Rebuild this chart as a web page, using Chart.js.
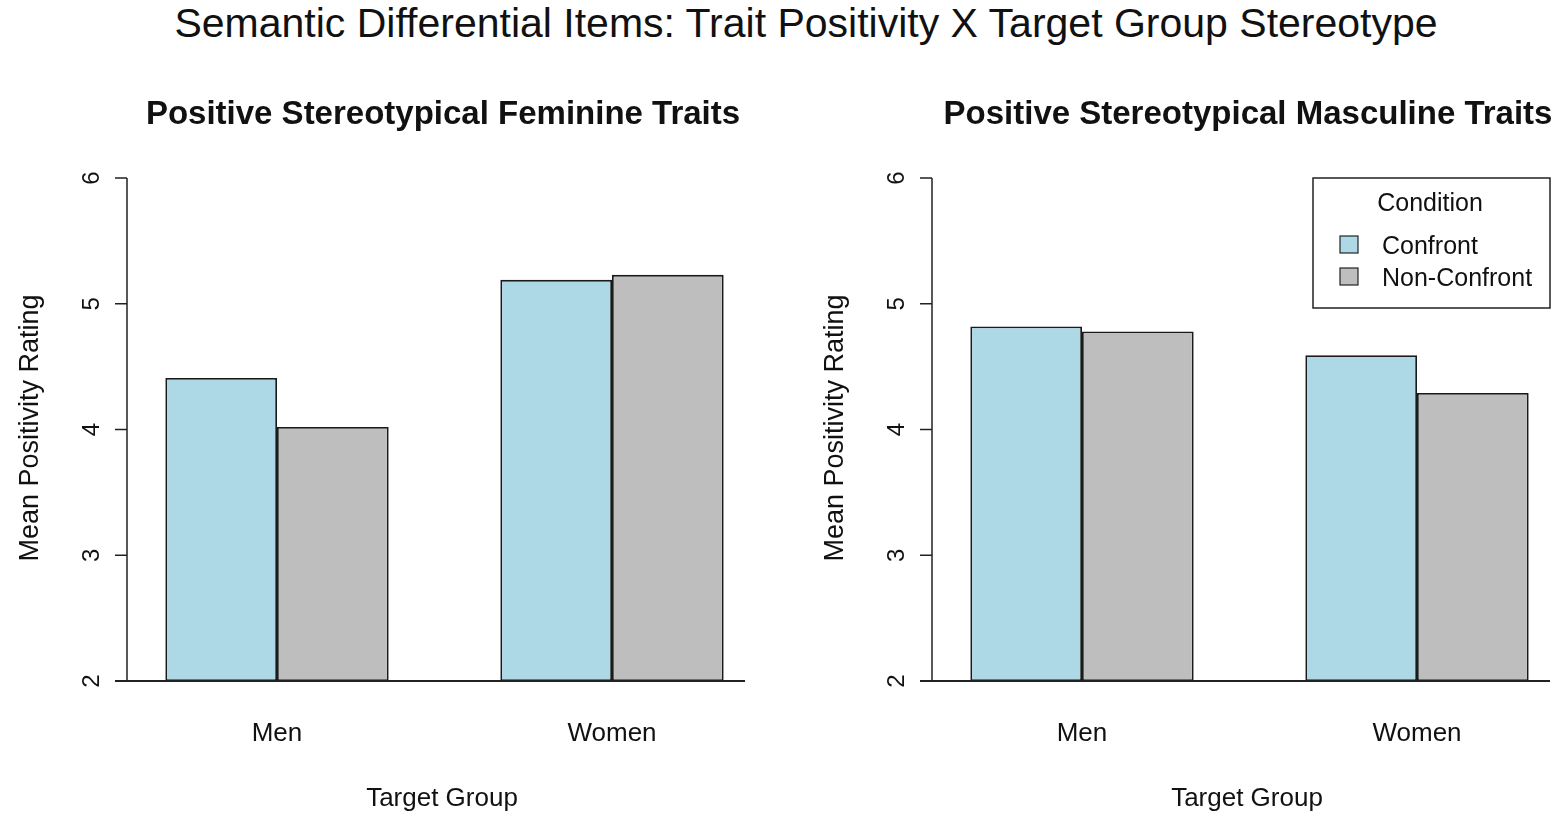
<!DOCTYPE html>
<html>
<head>
<meta charset="utf-8">
<script src="https://cdn.jsdelivr.net/npm/chart.js@4.4.1/dist/chart.umd.min.js"></script>
<style>
  html, body { margin: 0; padding: 0; background: #fff; overflow: hidden; width: 1561px; height: 815px; }
  #title { position: absolute; left: 0; top: 3px; width: 1612px; text-align: center;
           font: 41px/40px "Liberation Sans", Arial, sans-serif; color: #111; white-space: nowrap; }
  .panel { position: absolute; top: 0; width: 800px; height: 815px; }
</style>
</head>
<body>
<div id="title">Semantic Differential Items: Trait Positivity X Target Group Stereotype</div>
<div class="panel" style="left:0"><canvas id="fem"></canvas></div>
<div class="panel" style="left:805px"><canvas id="masc"></canvas></div>
<script>
// data
const groups = ['Men', 'Women']
const conditions = ['Confront', 'Non-Confront']
const feminineConfront = [4.41, 5.19]
const feminineNonConfront = [4.02, 5.23]
const masculineConfront = [4.82, 4.59]
const masculineNonConfront = [4.78, 4.29]
const yTicks = [2, 3, 4, 5, 6]

const colors = ['#ADD8E6', '#BEBEBE']
const FONT = '"Liberation Sans", Arial, sans-serif'

// R-style axes, labels and legend drawn on top of the bars
const baseAxes = {
  id: 'baseAxes',
  afterDatasetsDraw(chart, args, opts) {
    const ctx = chart.ctx
    const x = chart.scales.x
    const y = chart.scales.y
    const axisX = 127
    ctx.save()
    ctx.strokeStyle = '#222'
    ctx.fillStyle = '#111'

    // baseline
    ctx.lineWidth = 2
    ctx.beginPath()
    ctx.moveTo(115, y.getPixelForValue(yTicks[0]))
    ctx.lineTo(745, y.getPixelForValue(yTicks[0]))
    ctx.stroke()

    // y axis + ticks
    ctx.lineWidth = 1.5
    ctx.beginPath()
    ctx.moveTo(axisX, y.getPixelForValue(yTicks[0]))
    ctx.lineTo(axisX, y.getPixelForValue(yTicks[yTicks.length - 1]))
    yTicks.forEach(t => {
      const py = y.getPixelForValue(t)
      ctx.moveTo(axisX - 12, py)
      ctx.lineTo(axisX, py)
    })
    ctx.stroke()

    ctx.font = `24px ${FONT}`
    ctx.textAlign = 'center'
    ctx.textBaseline = 'alphabetic'
    yTicks.forEach(t => {
      ctx.save()
      ctx.translate(99, y.getPixelForValue(t))
      ctx.rotate(-Math.PI / 2)
      ctx.fillText(String(t), 0, 0)
      ctx.restore()
    })

    // y title
    ctx.font = `27px ${FONT}`
    ctx.save()
    ctx.translate(38, 428)
    ctx.rotate(-Math.PI / 2)
    ctx.fillText('Mean Positivity Rating', 0, 0)
    ctx.restore()

    // category labels
    ctx.font = `26px ${FONT}`
    groups.forEach((g, i) => {
      ctx.fillText(g, x.getPixelForValue(i), 741)
    })
    ctx.fillText('Target Group', 442, 806)

    // panel title
    ctx.font = `bold 33px ${FONT}`
    ctx.fillText(opts.title, 443, 124)

    if (opts.legend) {
      ctx.lineWidth = 1.5
      ctx.strokeRect(508, 178, 237, 130)
      ctx.font = `25px ${FONT}`
      ctx.textAlign = 'center'
      ctx.fillText('Condition', 625, 211)
      ctx.textAlign = 'left'
      chart.data.datasets.forEach((ds, i) => {
        const top = 236 + i * 32
        ctx.fillStyle = ds.backgroundColor
        ctx.fillRect(535, top, 18, 17)
        ctx.lineWidth = 1.2
        ctx.strokeRect(535, top, 18, 17)
        ctx.fillStyle = '#111'
        ctx.fillText(ds.label, 577, top + 18)
      })
    }
    ctx.restore()
  }
}

function makeChart(id, title, confront, nonConfront, legend) {
  return new Chart(document.getElementById(id), {
    type: 'bar',
    data: {
      labels: groups,
      datasets: [
        { label: conditions[0], data: confront, backgroundColor: colors[0] },
        { label: conditions[1], data: nonConfront, backgroundColor: colors[1] }
      ]
    },
    options: {
      responsive: true,
      maintainAspectRatio: false,
      animation: false,
      events: [],
      layout: { padding: { left: 109.5, right: 20.5, top: 178, bottom: 134 } },
      datasets: {
        bar: {
          base: yTicks[0],
          categoryPercentage: 2 / 3,
          barPercentage: 1,
          borderColor: '#1a1a1a',
          borderWidth: 1.8,
          borderSkipped: false
        }
      },
      scales: {
        x: { display: false },
        y: { display: false, min: yTicks[0], max: yTicks[yTicks.length - 1] }
      },
      plugins: {
        legend: { display: false },
        tooltip: { enabled: false },
        baseAxes: { title: title, legend: legend }
      }
    },
    plugins: [baseAxes]
  })
}

makeChart('fem', 'Positive Stereotypical Feminine Traits', feminineConfront, feminineNonConfront, false)
makeChart('masc', 'Positive Stereotypical Masculine Traits', masculineConfront, masculineNonConfront, true)
</script>
</body>
</html>
